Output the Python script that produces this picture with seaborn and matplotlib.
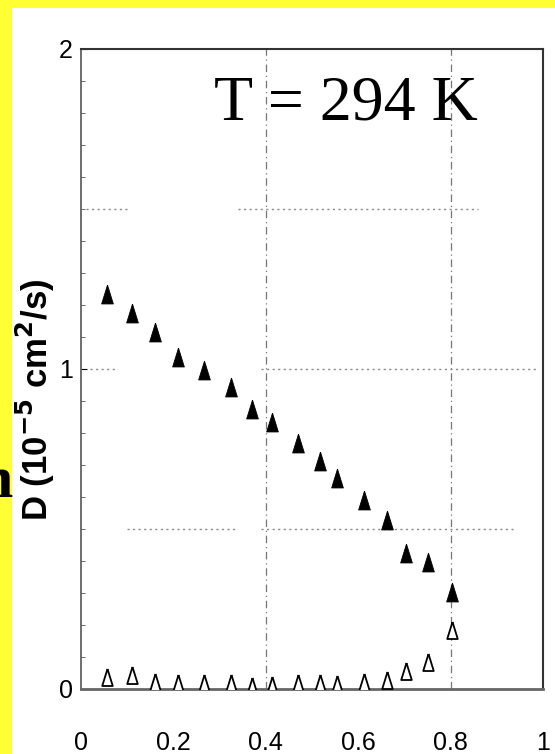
import matplotlib
matplotlib.use("Agg")
import matplotlib.pyplot as plt
from matplotlib.patches import Rectangle
import seaborn as sns
import pandas as pd

# mole fraction (x axis) and diffusion coefficients (10^-5 cm^2/s)
x_frac = [0.056, 0.11, 0.16, 0.21, 0.266, 0.325, 0.37, 0.413,
          0.47, 0.517, 0.554, 0.613, 0.662, 0.703, 0.751, 0.803]
d_filled = [1.234, 1.175, 1.116, 1.038, 0.997, 0.944, 0.875, 0.834,
            0.768, 0.713, 0.659, 0.590, 0.528, 0.425, 0.397, 0.303]
d_open = [0.037, 0.044, 0.022, 0.019, 0.019, 0.019, 0.010, 0.012,
          0.019, 0.019, 0.016, 0.022, 0.028, 0.056, 0.084, 0.184]

x_ticks = [0, 0.2, 0.4, 0.6, 0.8, 1]
x_tick_labels = ["0", "0.2", "0.4", "0.6", "0.8", "1"]
y_ticks = [0, 1, 2]
y_tick_labels = ["0", "1", "2"]

df = pd.DataFrame({"x": x_frac, "filled": d_filled, "open": d_open})

sns.set_style("white")
plt.rcParams['font.family'] = ['Liberation Sans', 'DejaVu Sans']
plt.rcParams['text.color'] = 'black'
plt.rcParams['axes.labelcolor'] = 'black'
plt.rcParams['xtick.color'] = 'black'
plt.rcParams['ytick.color'] = 'black'

fig = plt.figure(figsize=(5.55, 7.54), dpi=100)
fig.patch.set_facecolor('#ffff33')
fig.patches.append(Rectangle((12 / 555, 0), 1, 746 / 754, transform=fig.transFigure,
                             facecolor='white', edgecolor='none', zorder=-5))

# cut-off slide text on the left
fig.text(12.5 / 555, (754 - 497) / 754, "n", ha='right', va='baseline', zorder=-4,
         fontsize=43, fontweight='bold', color='black',
         family=['Liberation Serif', 'DejaVu Serif'])

ax = fig.add_axes([81 / 555, (754 - 689) / 754, 462 / 555, 640 / 754])
ax.set_facecolor('white')

# slim triangle marker
tri = [(0, 1), (-0.62, -1), (0.62, -1), (0, 1)]

sns.scatterplot(data=df, x="x", y="filled", marker=tri, s=185, color='black',
                edgecolor='black', linewidth=0.6, ax=ax, zorder=3)
sns.scatterplot(data=df, x="x", y="open", marker=tri, s=150, facecolor='white',
                edgecolor='black', linewidth=1.3, ax=ax, zorder=3)

# grid lines, broken like in the scanned original
for xv in [0.4, 0.8]:
    ax.axvline(xv, color='#777777', lw=0.9, ls=(0, (6, 3, 1, 3)), zorder=1)
hsegs = {1.5: [(0.01, 0.10), (0.34, 0.86)],
         1.0: [(0.02, 0.075), (0.39, 0.99)],
         0.5: [(0.10, 0.34), (0.39, 0.94)]}
for yv, segs in hsegs.items():
    for a, b in segs:
        ax.axhline(yv, xmin=a, xmax=b, color='#888888', lw=1.0, ls=(0, (1.5, 2.5)), zorder=1)

ax.set_xlim(0, 1)
ax.set_ylim(0, 2)
ax.set_xticks(x_ticks)
ax.set_xticklabels(x_tick_labels)
ax.set_yticks(y_ticks)
ax.set_yticklabels(y_tick_labels)
ax.set_yticks([i / 10 for i in range(21)], minor=True)

ax.tick_params(axis='x', length=0, pad=30, labelsize=18)
ax.tick_params(axis='y', which='major', direction='in', length=4, pad=6, left=True, labelsize=18)
ax.tick_params(axis='y', which='minor', direction='in', length=3, left=True, color='#555555')

ax.set_xlabel("")
ax.set_ylabel(r"D (10$^{\mathbf{-5}}$ cm$^{\mathbf{2}}$/s)", fontsize=25, fontweight='bold')
ax.yaxis.set_label_coords(-0.053, 0.452)

for side, sp in ax.spines.items():
    sp.set_visible(True)
    sp.set_color('#333333')
    sp.set_linewidth(1.5)
ax.spines['left'].set_color('#555555')
ax.spines['left'].set_linewidth(1.2)
ax.spines['bottom'].set_color('#666666')
ax.spines['bottom'].set_linewidth(2.0)

ax.text(0.574, 0.914, "T = 294 K", transform=ax.transAxes, ha='center', va='center',
        fontsize=46, color='black', family=['Liberation Serif', 'DejaVu Serif'])

fig.savefig("out.png", dpi=100)
